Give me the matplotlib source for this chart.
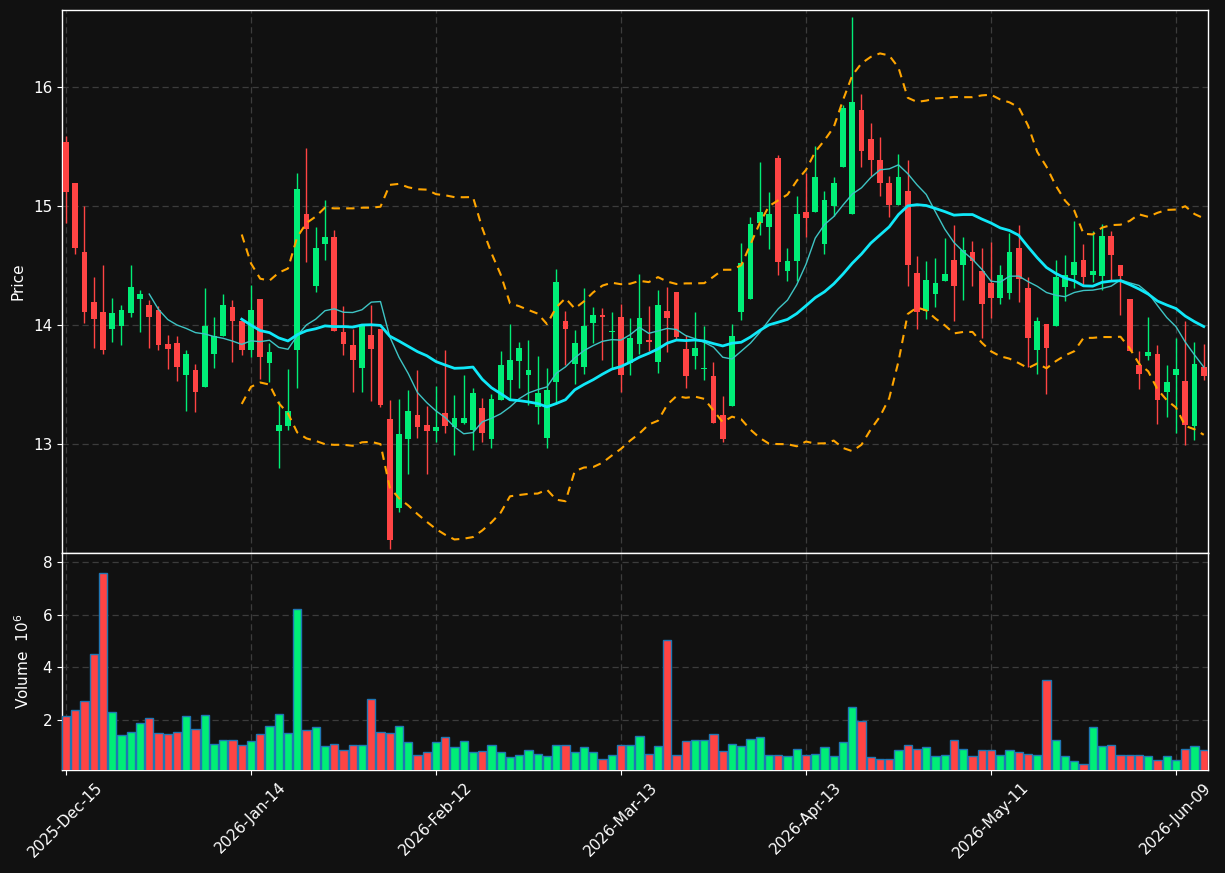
import numpy as np
import pandas as pd
import matplotlib
matplotlib.use("Agg")
import matplotlib.pyplot as plt

opens = [15.54,15.19,14.61,14.19,14.11,13.97,13.99,14.10,14.22,14.17,14.13,13.84,13.85,13.58,13.62,13.48,13.76,13.91,14.15,14.03,
         13.79,14.22,13.68,13.11,13.15,13.79,14.93,14.33,14.68,14.74,13.94,13.83,13.64,13.92,13.97,13.21,12.46,13.04,13.24,13.16,
         13.11,13.26,13.14,13.18,13.12,13.30,13.04,13.37,13.54,13.70,13.58,13.31,13.05,13.52,14.03,13.67,13.65,14.02,14.08,13.94,
         14.07,13.68,13.84,13.87,13.69,14.12,14.28,13.80,13.74,13.63,13.57,13.24,13.32,14.11,14.22,14.86,14.82,15.40,14.45,14.54,
         14.95,14.95,14.68,15.00,15.33,14.93,15.81,15.56,15.39,15.19,15.01,15.13,14.44,14.12,14.26,14.37,14.55,14.50,14.61,14.45,
         14.35,14.23,14.27,14.65,14.31,13.79,14.01,13.99,14.32,14.42,14.55,14.42,14.41,14.75,14.50,14.22,13.66,13.74,13.76,13.44,
         13.58,13.53,13.15,13.65]
highs = [15.59,15.19,15.00,14.40,14.50,14.23,14.17,14.50,14.29,14.21,14.16,13.92,13.91,13.79,13.67,14.31,14.07,14.26,14.21,14.03,
         14.34,14.22,13.85,13.36,13.63,15.28,15.49,14.82,15.05,14.80,14.16,13.97,14.00,14.17,13.97,13.37,13.38,13.45,13.62,13.32,
         13.49,13.79,13.41,13.58,13.47,13.39,13.42,13.78,14.01,13.86,13.87,13.74,13.64,14.47,14.12,13.96,14.31,14.15,14.14,14.11,
         14.18,14.06,14.43,14.16,14.29,14.32,14.28,13.92,14.11,13.99,13.69,13.40,14.01,14.69,14.91,15.37,15.12,15.43,14.65,15.08,
         15.28,15.50,15.13,15.24,15.85,16.59,15.94,15.70,15.58,15.25,15.44,15.39,14.58,14.54,14.56,14.73,14.84,14.74,14.71,14.65,
         14.70,14.50,14.77,14.84,14.40,14.07,14.01,14.55,14.59,14.87,14.68,14.79,14.85,14.79,14.50,14.22,13.78,14.07,13.83,13.66,
         13.89,14.03,13.86,13.84]
lows = [14.86,14.60,14.02,13.81,13.76,13.86,13.83,14.07,13.94,13.81,13.79,13.63,13.53,13.28,13.27,13.48,13.64,13.91,13.69,13.75,
        13.73,13.55,13.52,12.80,13.12,13.47,14.53,14.28,14.55,13.95,13.75,13.44,13.44,13.36,13.31,12.12,12.43,12.75,13.05,12.75,
        13.02,13.09,12.91,13.17,12.95,13.02,12.97,13.37,13.38,13.47,13.33,13.17,12.97,13.34,13.66,13.50,13.59,13.85,13.71,13.64,
        13.44,13.58,13.76,13.78,13.60,13.77,13.88,13.47,13.63,13.54,13.18,13.02,13.32,14.04,14.22,14.76,14.64,14.42,14.37,14.37,
        14.74,14.95,14.60,14.92,15.33,14.93,15.33,15.25,15.08,14.91,15.01,14.33,13.97,14.05,14.15,14.37,14.03,14.21,14.33,13.89,
        14.06,14.18,14.22,14.19,13.65,13.59,13.42,13.99,14.20,14.31,14.34,14.36,14.29,14.38,14.08,13.78,13.46,13.71,13.17,13.23,
        13.09,12.99,13.03,13.54]
closes = [15.12,14.65,14.11,14.05,13.79,14.10,14.13,14.32,14.26,14.07,13.83,13.80,13.65,13.76,13.44,13.99,13.91,14.17,14.03,13.79,
          14.13,13.73,13.77,13.16,13.28,15.14,14.81,14.65,14.74,13.95,13.84,13.71,14.00,13.80,13.33,12.19,13.08,13.28,13.14,13.11,
          13.14,13.15,13.22,13.22,13.43,13.09,13.38,13.66,13.71,13.81,13.62,13.43,13.45,14.36,13.97,13.85,13.99,14.08,14.07,13.95,
          13.58,13.89,14.06,13.86,14.17,14.06,13.90,13.57,13.81,13.64,13.18,13.04,13.91,14.52,14.85,14.95,14.93,14.53,14.54,14.93,
          14.90,15.24,15.05,15.19,15.82,15.87,15.46,15.39,15.19,15.01,15.24,14.50,14.11,14.38,14.35,14.43,14.33,14.63,14.54,14.18,
          14.23,14.42,14.61,14.39,13.89,14.03,13.81,14.40,14.42,14.53,14.40,14.45,14.75,14.59,14.41,13.78,13.59,13.77,13.37,13.52,
          13.63,13.16,13.67,13.57]
volumes = [2.14,2.37,2.71,4.50,7.58,2.29,1.42,1.53,1.87,2.06,1.49,1.46,1.53,2.14,1.65,2.18,1.11,1.23,1.26,1.07,
           1.19,1.46,1.76,2.22,1.49,6.21,1.61,1.72,1.00,1.11,0.88,1.07,1.07,2.79,1.53,1.49,1.76,1.15,0.66,0.77,
           1.15,1.34,0.96,1.19,0.77,0.81,1.04,0.77,0.58,0.69,0.85,0.73,0.62,1.04,1.04,0.77,0.96,0.77,0.54,0.69,
           1.07,1.04,1.38,0.73,1.00,5.03,0.66,1.19,1.23,1.23,1.46,0.81,1.11,1.00,1.30,1.34,0.66,0.69,0.62,0.92,
           0.69,0.73,0.96,0.62,1.15,2.48,1.96,0.58,0.54,0.54,0.88,1.07,0.92,0.96,0.62,0.69,1.23,0.92,0.62,0.85,
           0.88,0.66,0.85,0.77,0.73,0.69,3.51,1.23,0.62,0.43,0.35,1.72,1.00,1.04,0.69,0.69,0.66,0.62,0.47,0.62,
           0.50,0.92,1.00,0.85]
tick_labels = ["2025-Dec-15", "2026-Jan-14", "2026-Feb-12", "2026-Mar-13",
               "2026-Apr-13", "2026-May-11", "2026-Jun-09"]

BG = "#111111"
UP = "#00ee77"
DOWN = "#ff4444"
GRID = "#3c3c3c"

o = np.array(opens); h = np.array(highs); l = np.array(lows); c = np.array(closes)
v = np.array(volumes)
n = len(c)
x = np.arange(n)
s = pd.Series(c)
ma10 = s.rolling(10).mean()
ma20 = s.rolling(20).mean()
sd20 = s.rolling(20).std(ddof=0)
upper = ma20 + 2 * sd20
lower = ma20 - 2 * sd20

fig = plt.figure(figsize=(12.25, 8.73), dpi=100, facecolor=BG)
ax = fig.add_axes([62/1225, 1-553/873, 1146/1225, 543/873], facecolor=BG)
axv = fig.add_axes([62/1225, 1-770/873, 1146/1225, 217/873], facecolor=BG, sharex=ax)

up = c >= o
colors = np.where(up, UP, DOWN)
ax.vlines(x, l, h, colors=colors, linewidth=1.0, zorder=2)
body_bottom = np.minimum(o, c)
body_h = np.maximum(np.abs(c - o), 0.012)
ax.bar(x, body_h, bottom=body_bottom, width=0.6, color=colors, linewidth=0, zorder=3)

ax.plot(x, ma10, color="#3ec4c4", linewidth=1.0, zorder=4)
ax.plot(x, ma20, color="#10e8f8", linewidth=2.0, zorder=4)
ax.plot(x, upper, color="#ffa500", linewidth=1.5, linestyle=(0, (4, 3)), zorder=4)
ax.plot(x, lower, color="#ffa500", linewidth=1.5, linestyle=(0, (4, 3)), zorder=4)

axv.bar(x, v, width=0.9, color=colors, edgecolor="#1f77b4", linewidth=1.0, zorder=3)

ax.set_xlim(-0.43, n - 0.54)
ax.set_ylim(12.084, 16.647)
axv.set_ylim(0.3 * v.min(), 1.1 * v.max())

ticks = np.arange(0, n, 20)
axv.set_xticks(ticks)
axv.set_xticklabels(tick_labels[:len(ticks)], rotation=45, ha="center")
ax.tick_params(axis="x", labelbottom=False, length=0)
ax.set_yticks([13, 14, 15, 16])
axv.set_yticks([2, 4, 6, 8])

for a in (ax, axv):
    a.grid(True, color=GRID, linestyle=(0, (5, 3)), linewidth=0.9)
    a.set_axisbelow(True)
    for sp in a.spines.values():
        sp.set_color("white")
        sp.set_linewidth(1.0)
    a.tick_params(colors="white", labelsize=11, labelcolor="white")

ax.set_ylabel("Price", color="white", fontsize=11)
axv.set_ylabel("Volume  $10^{6}$", color="white", fontsize=11)
ax.yaxis.set_label_coords(-0.032, 0.5)
axv.yaxis.set_label_coords(-0.026, 0.5)

fig.savefig("out.png", dpi=100, facecolor=BG)
